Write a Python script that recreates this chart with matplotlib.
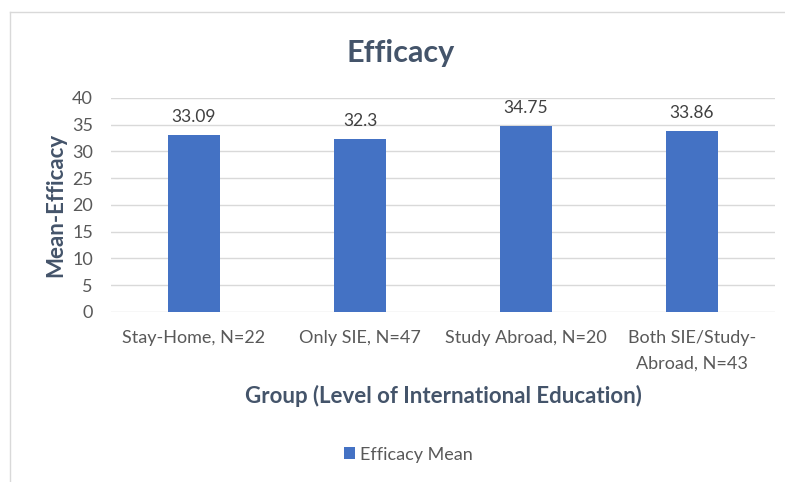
import matplotlib.pyplot as plt

groups = ["Stay-Home, N=22", "Only SIE, N=47", "Study Abroad, N=20", "Both SIE/Study-\nAbroad, N=43"]
means = [33.09, 32.3, 34.75, 33.86]
value_labels = ["33.09", "32.3", "34.75", "33.86"]

plt.rcParams["font.family"] = ["Lato", "DejaVu Sans"]

fig = plt.figure(figsize=(7.85, 4.82), dpi=100)
ax = fig.add_axes([0.1414, 0.3527, 0.8459, 0.444])

x = list(range(len(groups)))
bars = ax.bar(x, means, width=0.31, color="#4472C4", zorder=3, label="Efficacy Mean")
for b, lab in zip(bars, value_labels):
    ax.annotate(lab, (b.get_x() + b.get_width() / 2, b.get_height()),
                xytext=(0, 7), textcoords="offset points", ha="center", va="bottom",
                fontsize=12.5, color="#404040")

ax.set_xlim(-0.5, len(groups) - 0.5)
ax.set_ylim(0, 40)
ax.set_yticks(range(0, 41, 5))
ax.set_xticks(x)
ax.set_xticklabels(groups, fontsize=13, color="#595959", linespacing=1.7)
ax.tick_params(axis="y", labelsize=13, labelcolor="#595959", length=0, pad=13)
ax.tick_params(axis="x", length=0, pad=13)
ax.grid(axis="y", color="#D9D9D9", linewidth=1, zorder=0)
for s in ax.spines.values():
    s.set_visible(False)

ax.set_ylabel("Mean-Efficacy", fontsize=16, fontweight="bold", color="#44546A", labelpad=4)
ax.set_xlabel("Group (Level of International Education)", fontsize=16, fontweight="bold",
              color="#44546A", labelpad=10)
fig.text(0.51, 0.89, "Efficacy", ha="center", va="center", fontsize=22, fontweight="bold", color="#44546A")

fig.legend(loc="center", bbox_to_anchor=(0.52, 0.057), frameon=False, fontsize=13,
           labelcolor="#595959", handlelength=0.6, handleheight=0.6, handletextpad=0.3)

# chart frame
fig.add_artist(plt.Line2D([10 / 785, 1], [1 - 12 / 482, 1 - 12 / 482], color="#D9D9D9", lw=1))
fig.add_artist(plt.Line2D([10 / 785, 10 / 785], [0, 1 - 12 / 482], color="#D9D9D9", lw=1))

fig.savefig("out.png", dpi=100)
